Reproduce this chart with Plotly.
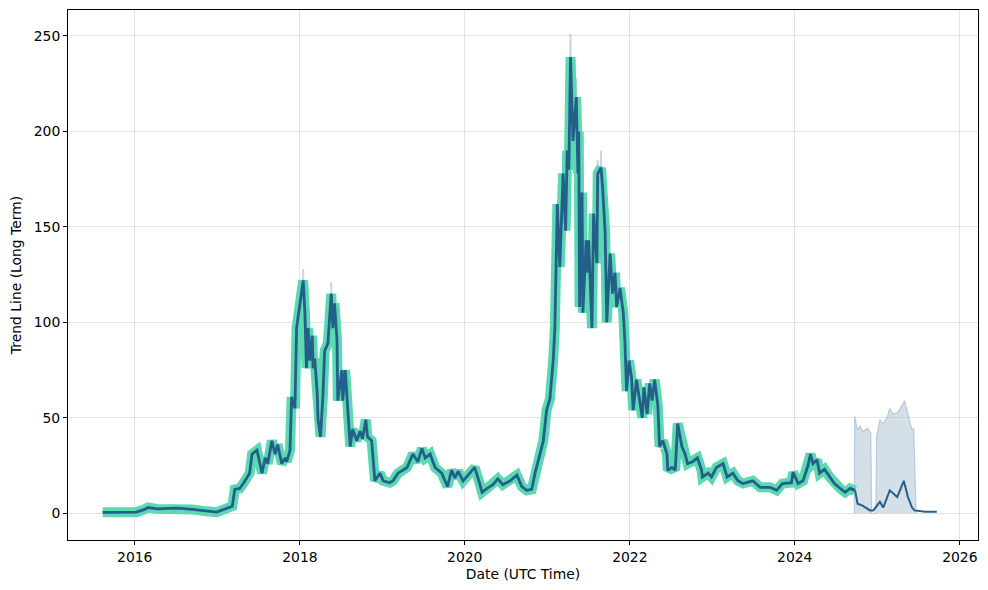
import pandas as pd
import plotly.graph_objects as go

# Historical trend line (decimal year, value)
hist_years = [2015.61, 2016.02, 2016.12, 2016.16, 2016.27, 2016.51, 2016.70, 2016.87, 2016.99, 2017.12,
              2017.18, 2017.21, 2017.27, 2017.32, 2017.39, 2017.42, 2017.48, 2017.54, 2017.58, 2017.61,
              2017.66, 2017.70, 2017.73, 2017.78, 2017.82, 2017.84, 2017.88, 2017.90, 2017.94, 2017.96,
              2018.00, 2018.04, 2018.06, 2018.08, 2018.10, 2018.12, 2018.15, 2018.16, 2018.18, 2018.21,
              2018.22, 2018.25, 2018.28, 2018.30, 2018.34, 2018.38, 2018.40, 2018.42, 2018.45, 2018.46,
              2018.51, 2018.52, 2018.55, 2018.58, 2018.61, 2018.64, 2018.69, 2018.73, 2018.76, 2018.80,
              2018.82, 2018.87, 2018.91, 2018.97, 2019.01, 2019.09, 2019.13, 2019.19, 2019.30, 2019.37,
              2019.43, 2019.48, 2019.52, 2019.58, 2019.64, 2019.72, 2019.79, 2019.84, 2019.88, 2019.92,
              2019.98, 2020.04, 2020.12, 2020.18, 2020.21, 2020.27, 2020.34, 2020.40, 2020.46, 2020.55,
              2020.63, 2020.69, 2020.75, 2020.81, 2020.85, 2020.91, 2020.95, 2020.99, 2021.03, 2021.07,
              2021.09, 2021.12, 2021.15, 2021.19, 2021.22, 2021.24, 2021.26, 2021.28, 2021.31, 2021.35,
              2021.37, 2021.38, 2021.39, 2021.42, 2021.43, 2021.47, 2021.49, 2021.50, 2021.54, 2021.56,
              2021.60, 2021.61, 2021.65, 2021.67, 2021.70, 2021.72, 2021.76, 2021.79, 2021.82, 2021.84,
              2021.88, 2021.92, 2021.94, 2021.96, 2021.99, 2022.02, 2022.04, 2022.08, 2022.10, 2022.15,
              2022.17, 2022.21, 2022.24, 2022.27, 2022.30, 2022.34, 2022.36, 2022.40, 2022.45, 2022.46,
              2022.51, 2022.55, 2022.58, 2022.63, 2022.67, 2022.70, 2022.76, 2022.82, 2022.87, 2022.88,
              2022.95, 2022.99, 2023.05, 2023.13, 2023.18, 2023.25, 2023.31, 2023.37, 2023.49, 2023.58,
              2023.70, 2023.78, 2023.85, 2023.96, 2023.98, 2024.04, 2024.10, 2024.16, 2024.19, 2024.22,
              2024.27, 2024.30, 2024.36, 2024.42, 2024.48, 2024.55, 2024.61, 2024.67, 2024.73]
hist_values = [0.5, 0.6, 2.0, 3.0, 2.3, 2.7, 2.0, 1.0, 0.6, 2.7,
               3.7, 12.5, 13, 16, 21, 31, 33, 21, 29, 26,
               38, 31, 36, 26, 29, 27, 33, 61, 55, 97,
               110, 122, 106, 76, 97, 80, 93, 76, 81, 63,
               49, 40, 62, 85, 89, 115, 97, 110, 91, 59,
               75, 59, 75, 52, 35, 44, 38, 43, 39, 49,
               40, 38, 17, 21, 17, 16, 17, 21, 24, 31,
               27, 34, 29, 31, 24, 21, 14, 22.6, 18.5, 22,
               17, 20, 24, 15.6, 11, 13, 15, 18, 15, 17,
               20, 14, 12, 12.5, 21, 31, 38, 54, 60, 80,
               97, 162, 129, 178, 148, 190, 180, 239, 195, 218,
               178, 200, 108, 168, 105, 143, 126, 143, 97, 157,
               131, 178, 181, 170, 147, 100, 136, 115, 126, 108,
               118, 105, 90, 64, 80, 71, 54, 70, 64, 50,
               66, 52, 68, 59, 70, 56, 35, 38, 31, 22.5,
               24, 22.5, 47, 35, 31, 26, 27, 29, 22.5, 19,
               21, 19, 24, 26, 19, 21, 17, 15.6, 17, 13.6,
               13.6, 12, 15.6, 16, 21.5, 15.6, 17, 25, 31, 26,
               28, 21, 23, 19, 15.6, 13, 11, 13, 12]

# Confidence-interval spikes visible in the historical period (year, low, high)
ci_years = [2018.04, 2018.38, 2021.28, 2021.35, 2021.65, 2022.58, 2018.45, 2021.61]
ci_low = [110, 100, 215, 195, 165, 40, 80, 165]
ci_high = [128, 121, 251, 228, 190, 47, 98, 185]

# Forecast trend line
fc_years = [2024.73, 2024.76, 2024.82, 2024.91, 2024.95, 2024.99, 2025.03, 2025.07, 2025.15,
            2025.24, 2025.32, 2025.37, 2025.42, 2025.45, 2025.58, 2025.72]
fc_values = [12, 5, 4, 1.5, 1.5, 4, 6, 3, 12, 8.5, 17, 8.5, 3, 1.5, 0.8, 0.8]

# Forecast band upper bound (lower bound at zero)
band_years = [2024.72, 2024.725, 2024.76, 2024.79, 2024.82, 2024.88, 2024.92, 2024.93, 2024.98,
              2024.99, 2025.03, 2025.07, 2025.12, 2025.15, 2025.19, 2025.25, 2025.33, 2025.37,
              2025.42, 2025.44, 2025.47]
band_upper = [0, 51, 43.5, 46, 43, 44.5, 42, 0, 0, 40, 49, 47, 50.5, 55, 52, 53, 59, 52, 43.5, 44.5, 0]

x_tick_years = [2016, 2018, 2020, 2022, 2024, 2026]
y_tick_vals = [0, 50, 100, 150, 200, 250]


def to_dt(years):
    out = []
    for y in years:
        yi = int(y)
        start = pd.Timestamp(year=yi, month=1, day=1)
        end = pd.Timestamp(year=yi + 1, month=1, day=1)
        out.append(start + (end - start) * (y - yi))
    return out


fig = go.Figure()

fig.add_trace(go.Scatter(
    x=to_dt(band_years), y=band_upper, mode="lines", fill="tozeroy",
    fillcolor="rgba(160,185,205,0.45)", line=dict(color="rgba(140,170,195,0.5)", width=1.2),
    hoverinfo="skip", showlegend=False))

spx, spy = [], []
for yr, lo, hi in zip(to_dt(ci_years), ci_low, ci_high):
    spx += [yr, yr, None]
    spy += [lo, hi, None]
fig.add_trace(go.Scatter(x=spx, y=spy, mode="lines",
                         line=dict(color="rgba(160,185,205,0.6)", width=2),
                         hoverinfo="skip", showlegend=False))

fig.add_trace(go.Scatter(x=to_dt(hist_years), y=hist_values, mode="lines",
                         line=dict(color="#5cd8b3", width=10),
                         showlegend=False))
fig.add_trace(go.Scatter(x=to_dt(hist_years), y=hist_values, mode="lines",
                         line=dict(color="#22608a", width=2.8),
                         showlegend=False))
fig.add_trace(go.Scatter(x=to_dt(fc_years), y=fc_values, mode="lines",
                         line=dict(color="#22608a", width=2),
                         showlegend=False))

font = dict(family="DejaVu Sans", size=13.9, color="black")
# The page body has an 8px default margin, so the figure is sized to fit within the window.
fig.update_layout(
    width=972, height=574,
    margin=dict(l=60, r=2, t=2, b=42, autoexpand=False),
    paper_bgcolor="white", plot_bgcolor="white",
    font=font,
    xaxis=dict(
        title=dict(text="Date (UTC Time)", font=font, standoff=6),
        type="date", automargin=False,
        range=to_dt([2015.19, 2026.22]),
        tickvals=to_dt(x_tick_years), ticktext=[str(v) for v in x_tick_years],
        showgrid=True, gridcolor="rgba(0,0,0,0.11)", gridwidth=1,
        showline=True, linecolor="black", linewidth=1, mirror=True,
        ticks="outside", ticklen=4, tickcolor="black", zeroline=False,
    ),
    yaxis=dict(
        title=dict(text="Trend Line (Long Term)", font=font, standoff=10),
        range=[-14, 263.6], automargin=False,
        tickvals=y_tick_vals,
        showgrid=True, gridcolor="rgba(0,0,0,0.11)", gridwidth=1,
        showline=True, linecolor="black", linewidth=1, mirror=True,
        ticks="outside", ticklen=4, tickcolor="black", zeroline=False,
    ),
)

fig.write_html("out.html")
